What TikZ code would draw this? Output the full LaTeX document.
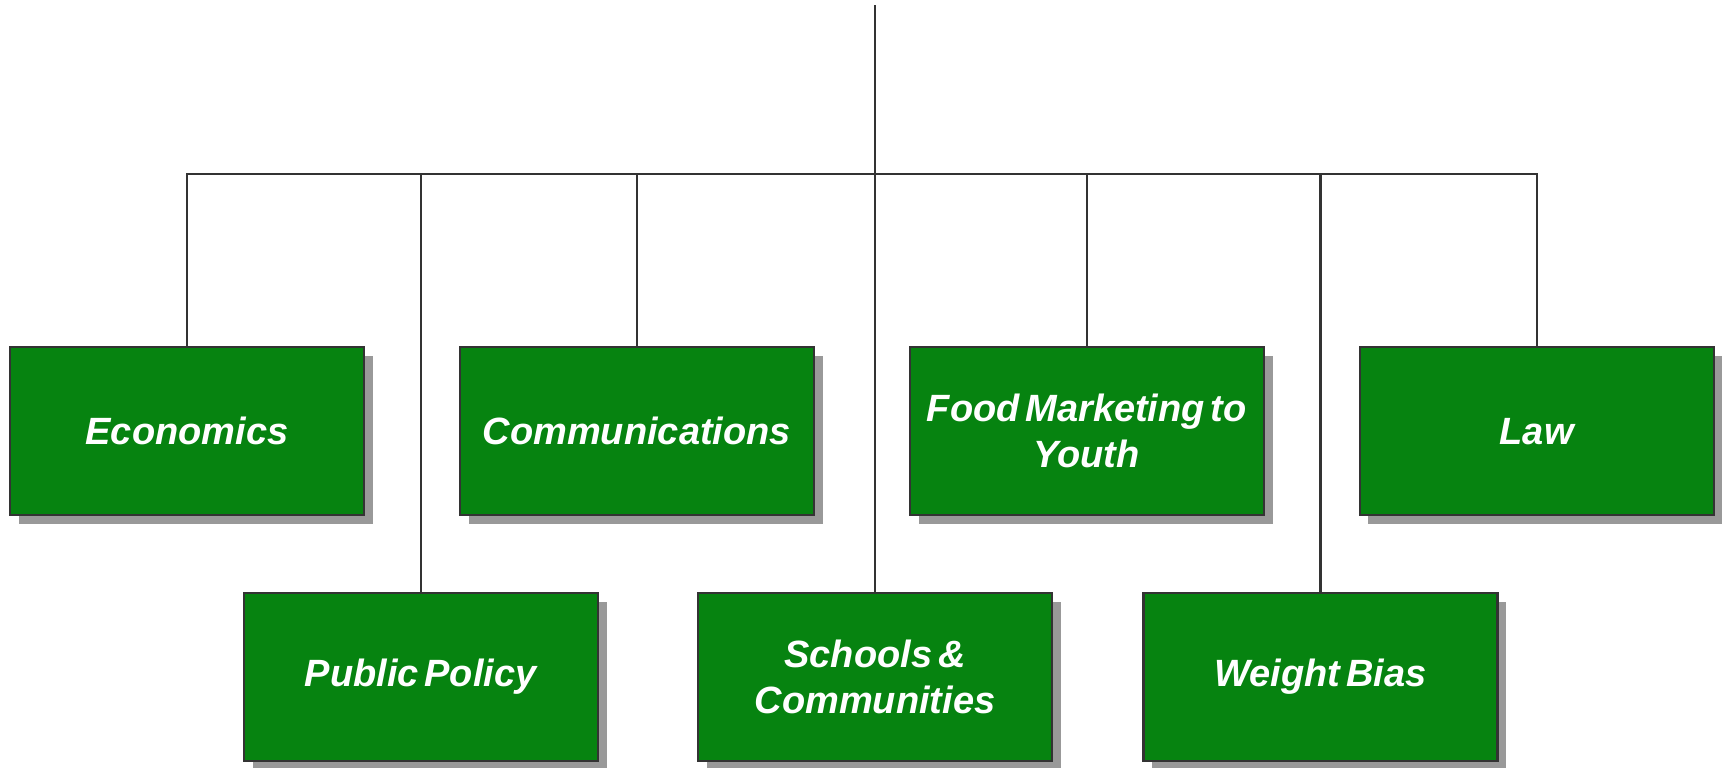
\documentclass[tikz,border=0pt]{standalone}
\usepackage{fontspec}
\setmainfont[WordSpace=0.55]{Liberation Sans}
\usetikzlibrary{shadows}
\definecolor{boxgreen}{HTML}{068310}
\definecolor{linegray}{HTML}{333333}

\begin{document}
\begin{tikzpicture}[
	x=1pt, y=-1pt,
	box/.style={rectangle, draw=linegray, line width=2.2pt, fill=boxgreen, text=white,
		minimum width=354pt, minimum height=168pt, align=center,
		font=\fontsize{38}{46}\selectfont\bfseries\itshape,
		drop shadow={shadow xshift=8.8pt, shadow yshift=-8.8pt, fill=black!40, opacity=1}},
	link/.style={draw=linegray, line width=2.2pt}
	]
	\useasboundingbox (0,0) rectangle (1729,768);
	\node[box] (econ)    at (186.9,431.2) {Economics};
	\node[box] (comm)    at (636.8,431.2) {Communications};
	\node[box] (food)    at (1086.7,431.2) {Food Marketing to\\Youth};
	\node[box] (law)     at (1536.6,431.2) {Law};
	\node[box] (policy)  at (420.7,677.1) {Public Policy};
	\node[box] (schools) at (875.0,677.1) {Schools \&\\Communities};
	\node[box] (bias)    at (1320.5,677.1) {Weight Bias};
	\coordinate (top) at (875.0,5.5);
	\coordinate (hub) at (875.0,174.2);
	\draw[link] (top) -- (hub);
	\foreach \n in {econ,comm,food,law,policy,schools,bias}
		\draw[link] (\n.north) |- (hub);
\end{tikzpicture}
\end{document}
